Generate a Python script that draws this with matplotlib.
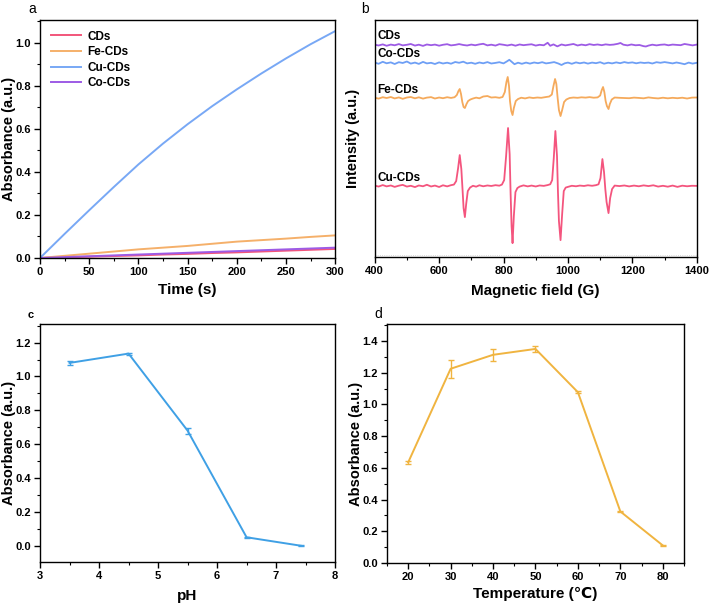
import matplotlib
matplotlib.use("Agg")
import matplotlib.pyplot as plt
from matplotlib.ticker import MultipleLocator

plt.rcParams['font.family'] = ['Liberation Sans', 'DejaVu Sans']
plt.rcParams['font.weight'] = 'bold'
plt.rcParams['axes.labelweight'] = 'bold'
plt.rcParams['axes.linewidth'] = 1.0

# ---- panel a: kinetics ----
time_s = [0, 25, 50, 75, 100, 125, 150, 175, 200, 225, 250, 275, 300]
abs_cds = [0.0, 0.003, 0.006, 0.009, 0.012, 0.016, 0.019, 0.023, 0.026, 0.030, 0.034, 0.038, 0.042]
abs_fe = [0.0, 0.010, 0.020, 0.030, 0.040, 0.048, 0.056, 0.066, 0.076, 0.083, 0.090, 0.098, 0.105]
abs_cu = [0.0, 0.112, 0.222, 0.330, 0.435, 0.532, 0.622, 0.706, 0.784, 0.858, 0.928, 0.994, 1.055]
abs_co = [0.0, 0.004, 0.008, 0.012, 0.016, 0.020, 0.024, 0.028, 0.032, 0.036, 0.040, 0.044, 0.048]
kin_labels = ['CDs', 'Fe-CDs', 'Cu-CDs', 'Co-CDs']

# ---- panel b: EPR spectra (relative intensity, stacked) ----
cds_field = [400, 412, 425, 437, 450, 462, 475, 487, 500, 512, 525, 537, 550, 562, 575, 587, 600, 612,
             625, 637, 650, 662, 675, 687, 700, 712, 725, 737, 750, 762, 775, 787, 800, 812, 825, 837,
             850, 862, 875, 887, 900, 912, 925, 937, 945, 955, 967, 980, 992, 1005, 1017, 1030, 1042,
             1055, 1067, 1080, 1092, 1105, 1117, 1130, 1142, 1155, 1163, 1172, 1185, 1197, 1210, 1222,
             1235, 1242, 1250, 1262, 1275, 1287, 1300, 1312, 1325, 1337, 1350, 1362, 1375, 1387, 1400]
cds_int = [0.3, -0.5, 0.6, -0.8, 0.4, -0.3, 0.9, -0.4, 0.2, 1.0, -0.6, 0.3, -0.9, 0.5, -0.2, 0.4, -0.7, 0.2,
           0.8, -0.4, 0.1, 0.9, 0.0, -0.5, 0.4, -0.3, 0.6, 1.2, -0.4, 0.3, -0.6, 0.8, 0.2, -0.5, 0.4, -0.7,
           0.5, -0.2, 0.3, 0.7, -0.6, 0.2, -0.3, 2.2, -0.8, 0.6, -1.4, 0.5, -0.4, 0.3, 1.0, -0.5, 0.4,
           -0.3, 0.8, 0.0, 0.5, -0.2, 0.6, 0.1, 0.4, 1.2, 2.0, 0.3, -0.4, 0.5, -0.3, 0.0,
           -1.2, -1.5, -0.6, 0.3, -0.4, 0.2, 0.5, -0.3, 0.4, 0.1, -0.2, 1.0, 0.3, -0.4, 0.4]

co_field = [400, 412, 425, 437, 450, 462, 475, 487, 500, 512, 525, 537, 550, 562, 575, 587, 600, 612,
            625, 637, 650, 662, 675, 687, 700, 712, 725, 737, 750, 762, 775, 787, 800, 810, 818, 826,
            834, 845, 857, 870, 882, 895, 907, 920, 932, 945, 957, 970, 980, 990, 1000, 1012, 1025,
            1037, 1050, 1062, 1075, 1087, 1100, 1112, 1125, 1137, 1150, 1162, 1175, 1187, 1200, 1212,
            1225, 1237, 1250, 1262, 1275, 1287, 1300, 1312, 1325, 1337, 1350, 1362, 1375, 1387, 1400]
co_int = [0.5, -0.8, 1.2, -0.3, 0.6, -1.0, 0.8, 0.0, 1.5, -0.6, 0.4, -0.9, 1.1, -0.4, 0.2, -1.0, 0.6, -0.5,
          0.3, -0.7, 1.0, 0.2, 1.3, -0.4, 0.3, -0.8, 0.5, -0.3, 0.9, -0.5, 0.1, 0.8, -0.4, 1.5, 3.2, 1.0,
          -1.2, 0.3, -0.8, 0.4, -0.6, 0.5, -0.2, 0.8, -0.4, 0.2, 0.9, -0.5, -2.0, -0.3, 0.4, -0.8, 0.6,
          -0.3, 0.5, -0.6, 0.4, -0.2, 0.8, -0.7, 0.3, -0.4, 0.6, -0.2, 0.9, 0.1, 0.6, -0.3,
          0.5, 0.0, 0.4, -0.5, 0.8, 0.2, 0.9, 0.3, -0.4, 0.5, -0.3, -1.2, 0.4, -0.6, 0.2]

fe_field = [400, 412, 425, 437, 450, 462, 475, 487, 500, 512, 525, 537, 550, 562, 575, 587, 600, 612,
            625, 637, 648, 655, 660, 664, 668, 672, 676, 680, 685, 690, 697, 705, 715, 725, 737, 750,
            762, 775, 787, 797, 804, 809, 813, 817, 820, 824, 828, 832, 838, 845, 855, 867, 880, 892,
            905, 917, 930, 942, 950, 955, 960, 964, 968, 972, 977, 982, 988, 995, 1005, 1017, 1030,
            1042, 1055, 1067, 1080, 1092, 1100, 1105, 1109, 1113, 1117, 1121, 1126, 1130, 1136, 1145,
            1160, 1175, 1190, 1205, 1220, 1235, 1250, 1265, 1280, 1295, 1310, 1325, 1340, 1355, 1370,
            1385, 1400]
fe_int = [0.3, -0.6, 0.8, 0.0, 1.0, -0.4, 0.6, -0.8, 0.5, 1.0, -0.3, 0.7, -0.6, 0.4, 0.9, -0.5, 0.5, -0.2,
          0.8, 0.1, 0.8, 3.0, 7.0, 9.0, 4.0, -4.0, -9.0, -10.0, -6.0, -3.0, -1.5, -0.5, 0.4, -0.3, 1.5, 2.0,
          0.5, 0.8, 0.2, 1.0, 6.0, 16.0, 21.0, 12.0, -3.0, -13.0, -17.0, -10.0, -3.0, -1.0, 0.3, -0.4, 0.6, 0.0,
          0.5, 0.2, 0.9, 1.5, 3.5, 12.0, 19.0, 14.0, 0.0, -12.0, -18.0, -12.0, -4.0, -1.5, 0.0, 0.5, 0.2,
          0.7, 0.4, 0.9, 0.3, 0.6, 2.5, 8.0, 11.0, 6.0, -3.0, -8.0, -11.0, -6.0, -1.5, 0.5,
          0.2, 0.0, -0.2, 0.4, 0.1, -0.3, 0.6, 0.0, -0.4, 0.3, -0.3, 0.2, -0.2, 0.3, -0.5,
          0.4, 0.5]

cu_field = [400, 412, 425, 437, 450, 462, 475, 487, 500, 512, 525, 537, 550, 562, 575, 587, 600, 612,
            625, 637, 646, 653, 659, 664, 669, 673, 676, 680, 684, 689, 696, 705, 715, 725, 737, 750,
            762, 775, 787, 795, 802, 808, 814, 819, 822, 825, 828, 832, 837, 843, 850, 862, 875, 887,
            900, 912, 925, 937, 945, 951, 956, 961, 966, 969, 972, 977, 982, 987, 993, 1000, 1012, 1025,
            1037, 1050, 1062, 1075, 1087, 1095, 1101, 1107, 1112, 1116, 1120, 1126, 1131, 1137, 1145,
            1160, 1175, 1190, 1205, 1220, 1235, 1250, 1265, 1280, 1295, 1310, 1325, 1340, 1355, 1370,
            1385, 1400]
cu_int = [0.5, -0.5, 1.0, -0.3, 0.6, -0.8, 0.4, 1.2, -0.5, 0.3, -1.0, 0.6, -0.2, 1.3, -0.4, 0.5, -0.9, 0.8,
          -0.3, 0.9, 1.5, 5.0, 18.0, 31.0, 17.0, -5.0, -22.0, -31.0, -18.0, -5.0, -1.5, 0.3, -0.6, 0.8, -0.2, 0.6,
          0.1, 0.9, 0.4, 1.5, 6.0, 30.0, 58.0, 32.0, -8.0, -40.0, -57.0, -30.0, -6.0, -2.0, -0.5, 0.7, -0.3, 0.5,
          -0.4, 0.6, 0.2, 1.0, 1.8, 6.0, 28.0, 55.0, 30.0, -6.0, -35.0, -54.0, -28.0, -5.0, -1.5, -0.8, 0.3, -0.2,
          0.5, 0.1, 0.8, 0.3, 0.9, 1.8, 8.0, 27.0, 14.0, -3.0, -16.0, -27.0, -12.0, -3.0, 0.5,
          0.0, 0.6, -0.3, 0.5, -0.2, 0.7, 0.0, 0.8, -0.5, 0.3, -0.6, 0.5, -0.8, 0.4, -0.2,
          0.3, 0.2]

epr_labels = ['CDs', 'Co-CDs', 'Fe-CDs', 'Cu-CDs']
epr_offsets = [-25, -43, -78, -166]

# ---- panel c: pH ----
ph = [3.5, 4.5, 5.5, 6.5, 7.42]
abs_ph = [1.08, 1.135, 0.68, 0.05, 0.0]
err_ph = [0.01, 0.006, 0.018, 0.004, 0.003]

# ---- panel d: temperature ----
temp = [20, 30, 40, 50, 60, 70, 80]
abs_temp = [0.635, 1.225, 1.313, 1.350, 1.077, 0.325, 0.111]
err_temp = [0.01, 0.057, 0.036, 0.017, 0.005, 0.005, 0.003]

kin_colors = ['#F2557A', '#F5B06A', '#78A8F5', '#9D5BE5']
epr_colors = ['#9D5BE5', '#6E9FF5', '#F5AA5C', '#F4557E']

fig = plt.figure(figsize=(7.11, 6.05), dpi=100)
ax_a = fig.add_axes([0.0563, 0.5736, 0.415, 0.3934])
ax_b = fig.add_axes([0.527, 0.575, 0.453, 0.392])
ax_c = fig.add_axes([0.0563, 0.0711, 0.415, 0.3934])
ax_d = fig.add_axes([0.5443, 0.0694, 0.4177, 0.395])


def style_axis(ax):
    ax.tick_params(which='major', direction='out', length=4, width=1.0, labelsize=8,
                   top=False, right=False, pad=2.5)
    ax.tick_params(which='minor', direction='out', length=2, width=0.8, top=False, right=False)
    for lab in ax.get_xticklabels() + ax.get_yticklabels():
        lab.set_fontweight('bold')


# a
for y, lab, col in zip([abs_cds, abs_fe, abs_cu, abs_co], kin_labels, kin_colors):
    ax_a.plot(time_s, y, color=col, lw=1.4, label=lab)
ax_a.set_xlim(0, 300)
ax_a.set_ylim(0, 1.107)
ax_a.xaxis.set_major_locator(MultipleLocator(50))
ax_a.xaxis.set_minor_locator(MultipleLocator(25))
ax_a.yaxis.set_major_locator(MultipleLocator(0.2))
ax_a.yaxis.set_minor_locator(MultipleLocator(0.1))
ax_a.set_xlabel('Time (s)', fontsize=11)
ax_a.set_ylabel('Absorbance (a.u.)', fontsize=10.5)
ax_a.xaxis.set_label_coords(0.5, -0.105)
ax_a.yaxis.set_label_coords(-0.082, 0.5)
style_axis(ax_a)
leg = ax_a.legend(loc='upper left', frameon=False, fontsize=8.5, handlelength=2.6,
                  handletextpad=0.5, labelspacing=0.3, borderaxespad=0.5)
for t in leg.get_texts():
    t.set_fontweight('bold')

# b
traces = [(cds_field, cds_int), (co_field, co_int), (fe_field, fe_int), (cu_field, cu_int)]
for (fx, fy), off, lab, col in zip(traces, epr_offsets, epr_labels, epr_colors):
    ax_b.plot(fx, [v + off for v in fy], color=col, lw=1.3)
    ax_b.text(408, off + 8.5, lab, fontsize=8.5, fontweight='bold', va='center', ha='left')
ax_b.axhline(-235, color='#cccccc', lw=0.6, ls=':')
ax_b.set_xlim(400, 1400)
ax_b.set_ylim(-237, 0)
ax_b.set_yticks([])
ax_b.xaxis.set_major_locator(MultipleLocator(200))
ax_b.xaxis.set_minor_locator(MultipleLocator(100))
ax_b.set_xlabel('Magnetic field (G)', fontsize=11)
ax_b.set_ylabel('Intensity (a.u.)', fontsize=10.5)
ax_b.xaxis.set_label_coords(0.5, -0.112)
ax_b.yaxis.set_label_coords(-0.045, 0.5)
style_axis(ax_b)

# c
ax_c.errorbar(ph, abs_ph, yerr=err_ph, color='#3FA0E5', lw=1.4, capsize=2, elinewidth=1.0)
ax_c.set_xlim(3, 8)
ax_c.set_ylim(-0.096, 1.31)
ax_c.xaxis.set_major_locator(MultipleLocator(1))
ax_c.xaxis.set_minor_locator(MultipleLocator(0.5))
ax_c.yaxis.set_major_locator(MultipleLocator(0.2))
ax_c.yaxis.set_minor_locator(MultipleLocator(0.1))
ax_c.set_xlabel('pH', fontsize=11)
ax_c.set_ylabel('Absorbance (a.u.)', fontsize=10.5)
ax_c.xaxis.set_label_coords(0.5, -0.115)
ax_c.yaxis.set_label_coords(-0.082, 0.5)
style_axis(ax_c)

# d
ax_d.errorbar(temp, abs_temp, yerr=err_temp, color='#F0B440', lw=1.4, capsize=2, elinewidth=1.0)
ax_d.set_xlim(15, 85)
ax_d.set_ylim(0, 1.507)
ax_d.xaxis.set_major_locator(MultipleLocator(10))
ax_d.xaxis.set_minor_locator(MultipleLocator(5))
ax_d.yaxis.set_major_locator(MultipleLocator(0.2))
ax_d.yaxis.set_minor_locator(MultipleLocator(0.1))
ax_d.set_xlabel('Temperature (℃)', fontsize=11)
ax_d.set_ylabel('Absorbance (a.u.)', fontsize=10.5)
ax_d.xaxis.set_label_coords(0.5, -0.1)
ax_d.yaxis.set_label_coords(-0.08, 0.5)
style_axis(ax_d)

# panel letters
fig.text(28 / 711, 1 - 9 / 605, 'a', fontsize=10, fontweight='normal', va='center')
fig.text(361 / 711, 1 - 9 / 605, 'b', fontsize=10, fontweight='normal', va='center')
fig.text(28 / 711, 1 - 315 / 605, 'c', fontsize=8, fontweight='bold', va='center')
fig.text(374 / 711, 1 - 314 / 605, 'd', fontsize=10, fontweight='normal', va='center')

fig.savefig('out.png', dpi=100)
